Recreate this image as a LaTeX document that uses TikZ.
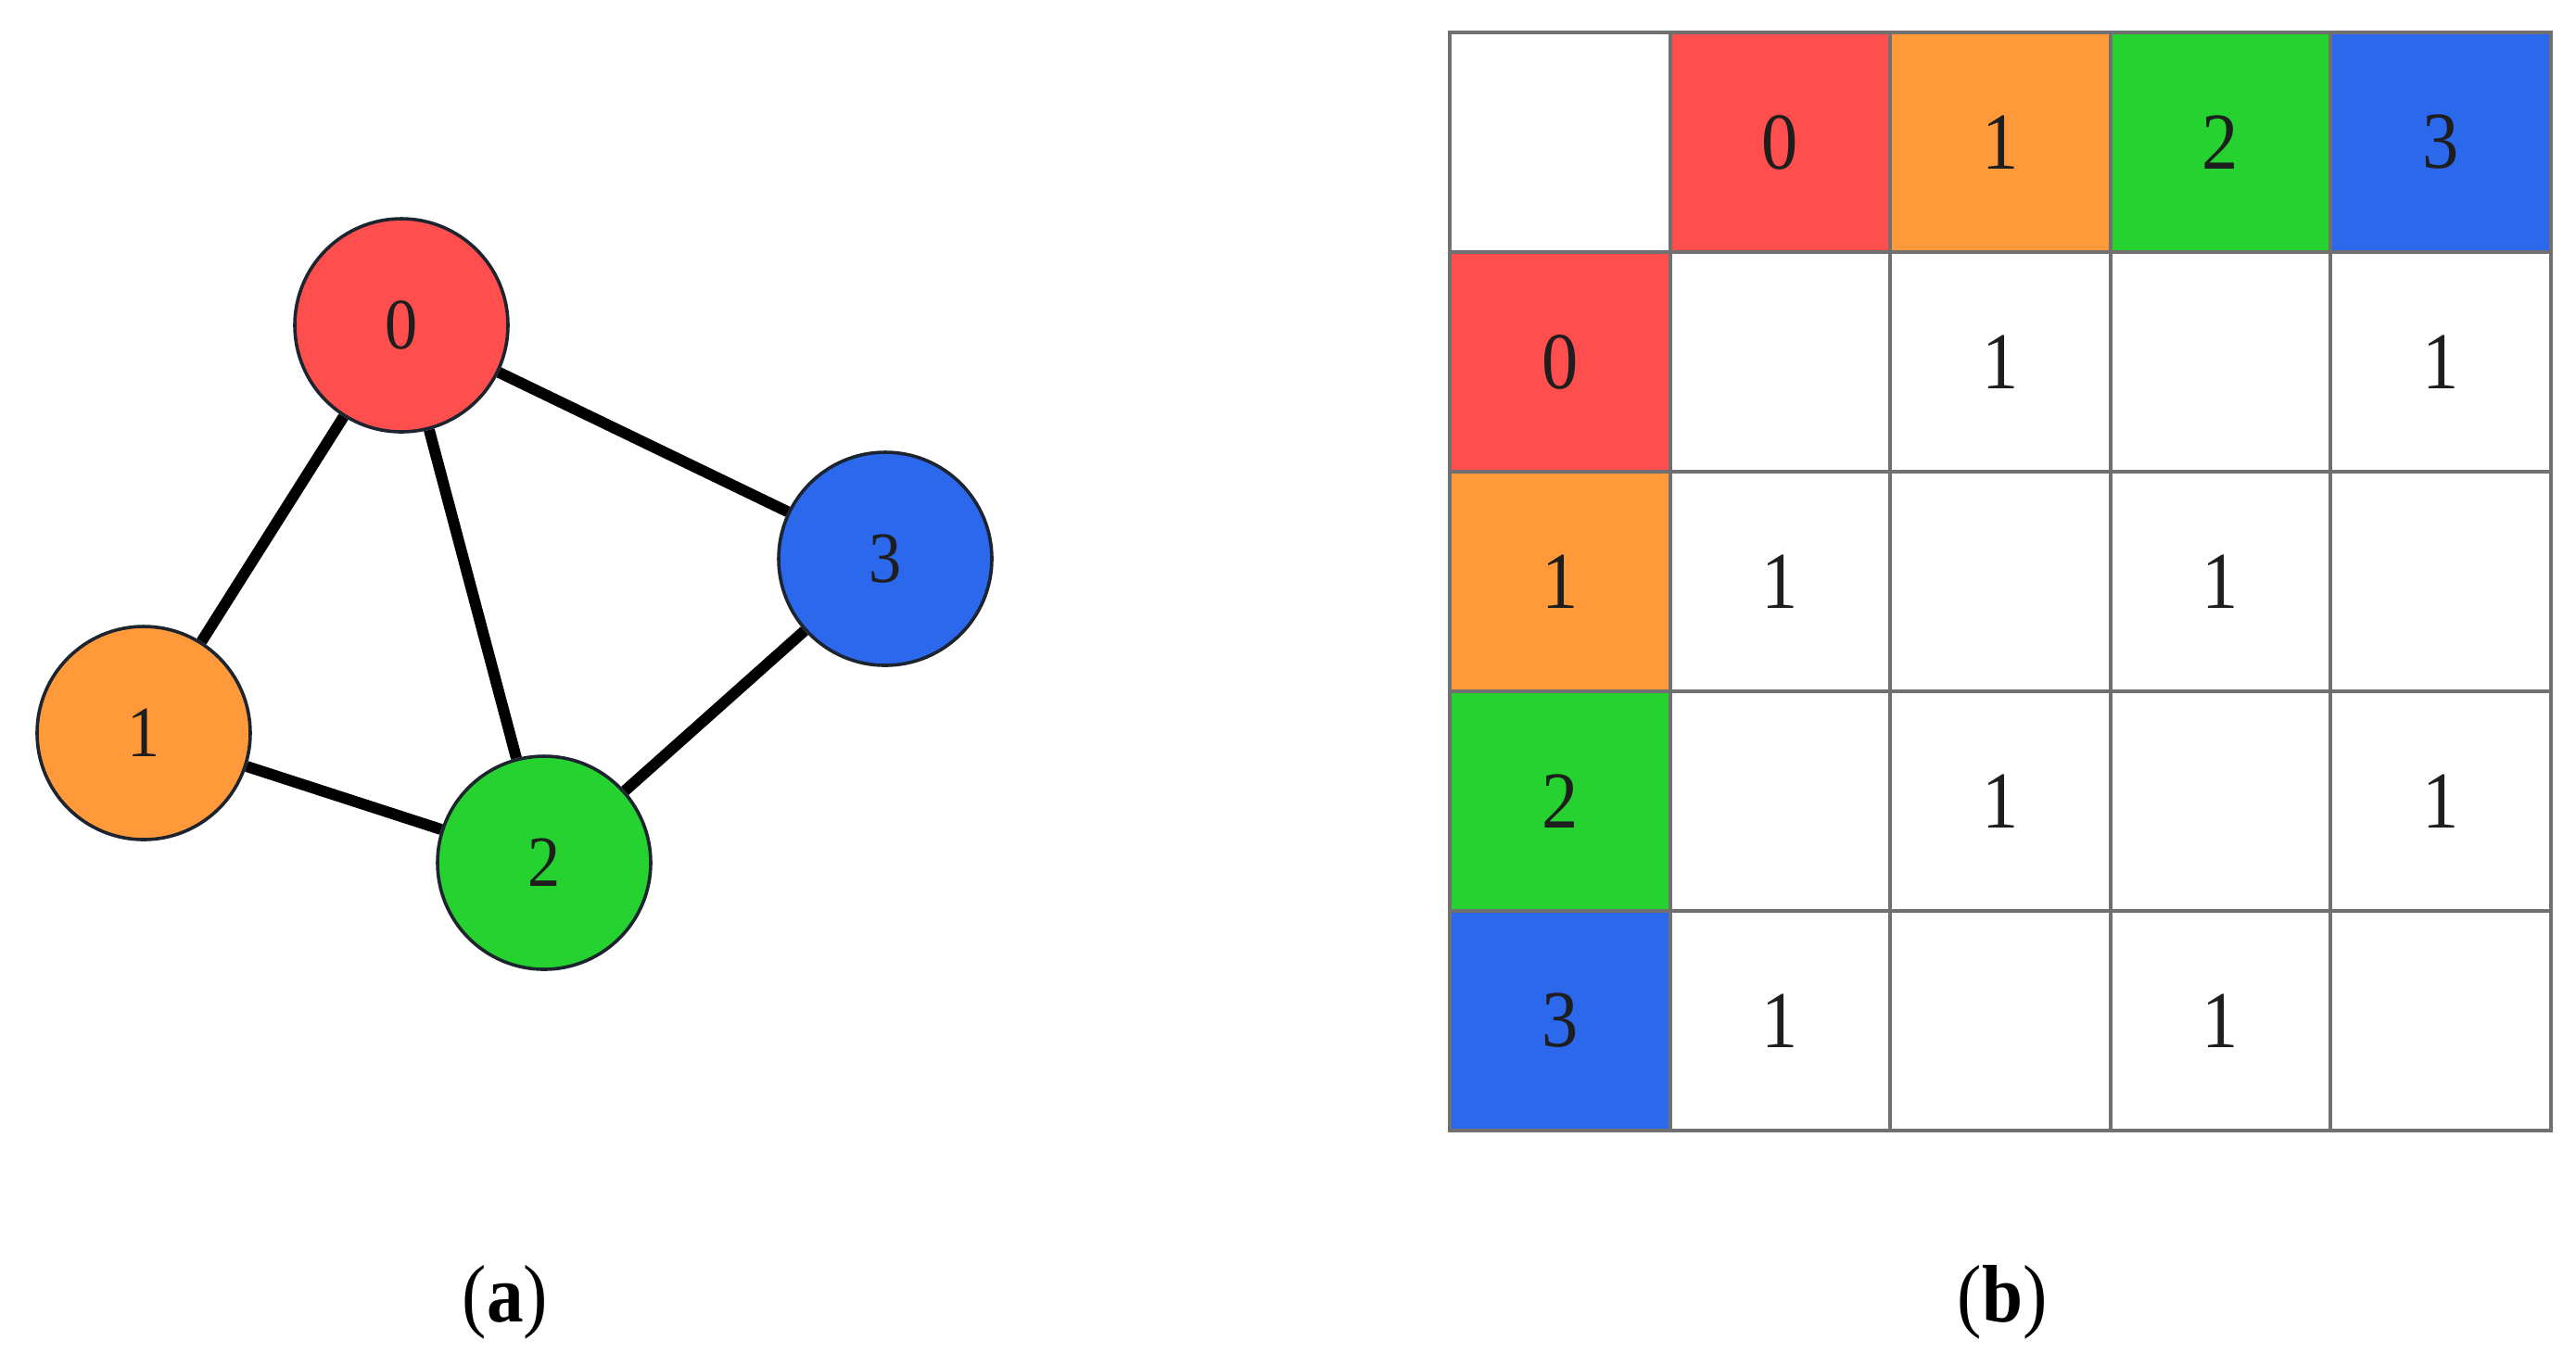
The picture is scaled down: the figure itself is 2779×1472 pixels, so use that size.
\documentclass[tikz,border=0pt]{standalone}
\usepackage{fontspec}
\setmainfont[FakeStretch=0.9]{Liberation Serif}
\definecolor{cred}{RGB}{255,78,78}
\definecolor{corange}{RGB}{255,153,58}
\definecolor{cgreen}{RGB}{38,210,48}
\definecolor{cblue}{RGB}{43,104,236}
\definecolor{cborder}{RGB}{28,36,48}
\definecolor{cgrid}{RGB}{112,112,112}
\definecolor{ctext}{RGB}{30,30,30}
\begin{document}
\begin{tikzpicture}[x=0.25pt,y=-0.25pt,
  vert/.style={circle, draw=cborder, line width=0.9pt, minimum size=57.5pt, inner sep=0pt,
    font=\fontsize{19.5}{20}\selectfont, text=ctext},
  edge/.style={line width=3pt, black},
  cell/.style={rectangle, draw=cgrid, line width=1pt, minimum width=59.375pt,
    minimum height=59.25pt, inner sep=0pt, font=\fontsize{21.8}{22}\selectfont, text=ctext},
  captext/.style={font=\fontsize{22}{24}\selectfont, inner sep=0pt}]
\useasboundingbox (0,0) rectangle (2779,1472);
% graph
\node[vert, fill=cred]    (v0) at (433,351) {0};
\node[vert, fill=corange] (v1) at (155,791) {1};
\node[vert, fill=cgreen]  (v2) at (587,931) {2};
\node[vert, fill=cblue]   (v3) at (955,603) {3};
\draw[edge] (v0) -- (v1);
\draw[edge] (v0) -- (v2);
\draw[edge] (v0) -- (v3);
\draw[edge] (v1) -- (v2);
\draw[edge] (v2) -- (v3);
% matrix
\def\cx#1{1564+237.5*#1+118.75}
\def\cy#1{35+237*#1+118.5}
\node[cell] (h) at ({\cx{0}},{\cy{0}}) {};
\node[cell, fill=cred]    (h0) at ({\cx{1}},{\cy{0}}) {0};
\node[cell, fill=corange] (h1) at ({\cx{2}},{\cy{0}}) {1};
\node[cell, fill=cgreen]  (h2) at ({\cx{3}},{\cy{0}}) {2};
\node[cell, fill=cblue]   (h3) at ({\cx{4}},{\cy{0}}) {3};
\node[cell, fill=cred]    (r0) at ({\cx{0}},{\cy{1}}) {0};
\node[cell, fill=corange] (r1) at ({\cx{0}},{\cy{2}}) {1};
\node[cell, fill=cgreen]  (r2) at ({\cx{0}},{\cy{3}}) {2};
\node[cell, fill=cblue]   (r3) at ({\cx{0}},{\cy{4}}) {3};
\foreach \i/\a/\b/\c/\d in {0//1//1, 1/1//1/, 2//1//1, 3/1//1/}{
  \node[cell] (c-\i-0) at ({\cx{1}},{\cy{(\i+1)}}) {\a};
  \node[cell] (c-\i-1) at ({\cx{2}},{\cy{(\i+1)}}) {\b};
  \node[cell] (c-\i-2) at ({\cx{3}},{\cy{(\i+1)}}) {\c};
  \node[cell] (c-\i-3) at ({\cx{4}},{\cy{(\i+1)}}) {\d};
}
% captions
\node[captext] (capa) at (545,1405) {(\textbf{a})};
\node[captext] (capb) at (2160,1405) {(\textbf{b})};
\end{tikzpicture}
\end{document}
